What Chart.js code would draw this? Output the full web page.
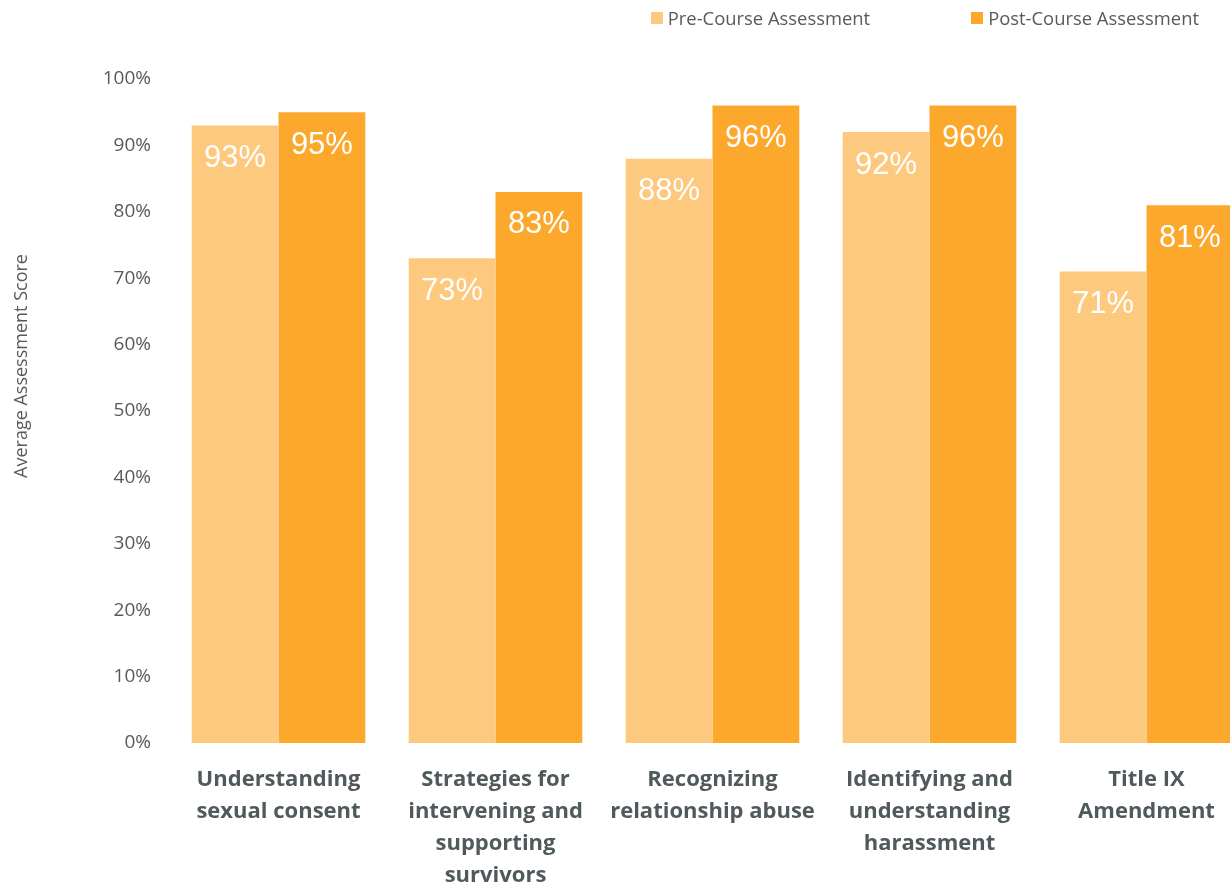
<!DOCTYPE html>
<html>
<head>
<meta charset="utf-8">
<title>Average Assessment Score</title>
<script src="https://cdn.jsdelivr.net/npm/chart.js@4"></script>
<style>
  html, body { margin: 0; padding: 0; background: #fff; }
  #wrap { position: relative; width: 1230px; height: 886px; overflow: hidden; }
  #chart { position: absolute; left: 0; top: 0; }
  #legend {
    position: absolute; top: 5px; right: 31px;
    display: flex; gap: 101px;
    font: 18.4px "Open Sans", sans-serif; color: #595959;
  }
  .item { display: flex; align-items: center; gap: 5px; }
  .box { width: 12px; height: 12px; display: inline-block; }
</style>
</head>
<body>
<div id="wrap">
  <canvas id="chart" width="1255" height="886"></canvas>
  <div id="legend"></div>
</div>
<script>
// ── Datos ──
const categorias = [
  ['Understanding', 'sexual consent'],
  ['Strategies for', 'intervening and', 'supporting', 'survivors'],
  ['Recognizing', 'relationship abuse'],
  ['Identifying and', 'understanding', 'harassment'],
  ['Title IX', 'Amendment']
];
const preCurso  = [93, 73, 88, 92, 71];
const postCurso = [95, 83, 96, 96, 81];
const ticksY    = [0, 10, 20, 30, 40, 50, 60, 70, 80, 90, 100];

const series = [
  { label: 'Pre-Course Assessment',  data: preCurso,  color: '#FDC97E' },
  { label: 'Post-Course Assessment', data: postCurso, color: '#FBA82C' }
];

const GRIS = '#595959';

// ── Leyenda HTML ──
document.getElementById('legend').innerHTML = series.map(s => `
  <div class="item"><span class="box" style="background:${s.color}"></span>${s.label}</div>`).join('');

// ── Etiquetas de valor dentro de cada barra ──
const etiquetasValor = {
  id: 'etiquetasValor',
  afterDatasetsDraw(chart) {
    const ctx = chart.ctx;
    ctx.save();
    ctx.fillStyle = '#ffffff';
    ctx.font = '31px "Liberation Sans", Arial, sans-serif';
    ctx.textAlign = 'center';
    ctx.textBaseline = 'middle';
    chart.data.datasets.forEach((ds, i) => {
      chart.getDatasetMeta(i).data.forEach((bar, j) => {
        ctx.fillText(ds.data[j] + '%', bar.x, bar.y + 33);
      });
    });
    ctx.restore();
  }
};

// ── Título del eje Y ──
const tituloEjeY = {
  id: 'tituloEjeY',
  afterDraw(chart) {
    const ctx = chart.ctx;
    ctx.save();
    ctx.translate(22, 366);
    ctx.rotate(-Math.PI / 2);
    ctx.fillStyle = GRIS;
    ctx.font = '18px "Open Sans", sans-serif';
    ctx.textAlign = 'center';
    ctx.textBaseline = 'middle';
    ctx.fillText('Average Assessment Score', 0, 0);
    ctx.restore();
  }
};

new Chart(document.getElementById('chart'), {
  type: 'bar',
  data: {
    labels: categorias,
    datasets: series.map(s => ({
      label: s.label,
      data: s.data,
      backgroundColor: s.color,
      borderWidth: 0,
      categoryPercentage: 0.8,
      barPercentage: 1.0
    }))
  },
  options: {
    responsive: false,
    animation: false,
    devicePixelRatio: 1,
    layout: { padding: { top: 79, left: 0, right: 0, bottom: 0 } },
    plugins: {
      legend: { display: false },
      tooltip: { enabled: false }
    },
    scales: {
      x: {
        grid: { display: false },
        border: { display: false },
        ticks: {
          color: '#50595B',
          font: { family: '"Open Sans", sans-serif', size: 22, weight: 'bold', lineHeight: 1.45 },
          padding: 13,
          maxRotation: 0,
          autoSkip: false
        },
        afterFit: s => { s.height = 143; }
      },
      y: {
        min: 0,
        max: 100,
        afterBuildTicks: s => { s.ticks = ticksY.map(v => ({ value: v })); },
        grid: { display: false },
        border: { display: false },
        ticks: {
          color: GRIS,
          font: { family: '"Open Sans", sans-serif', size: 19 },
          padding: 11,
          callback: v => v + '%'
        },
        afterFit: s => { s.width = 170; }
      }
    }
  },
  plugins: [etiquetasValor, tituloEjeY]
});
</script>
</body>
</html>
